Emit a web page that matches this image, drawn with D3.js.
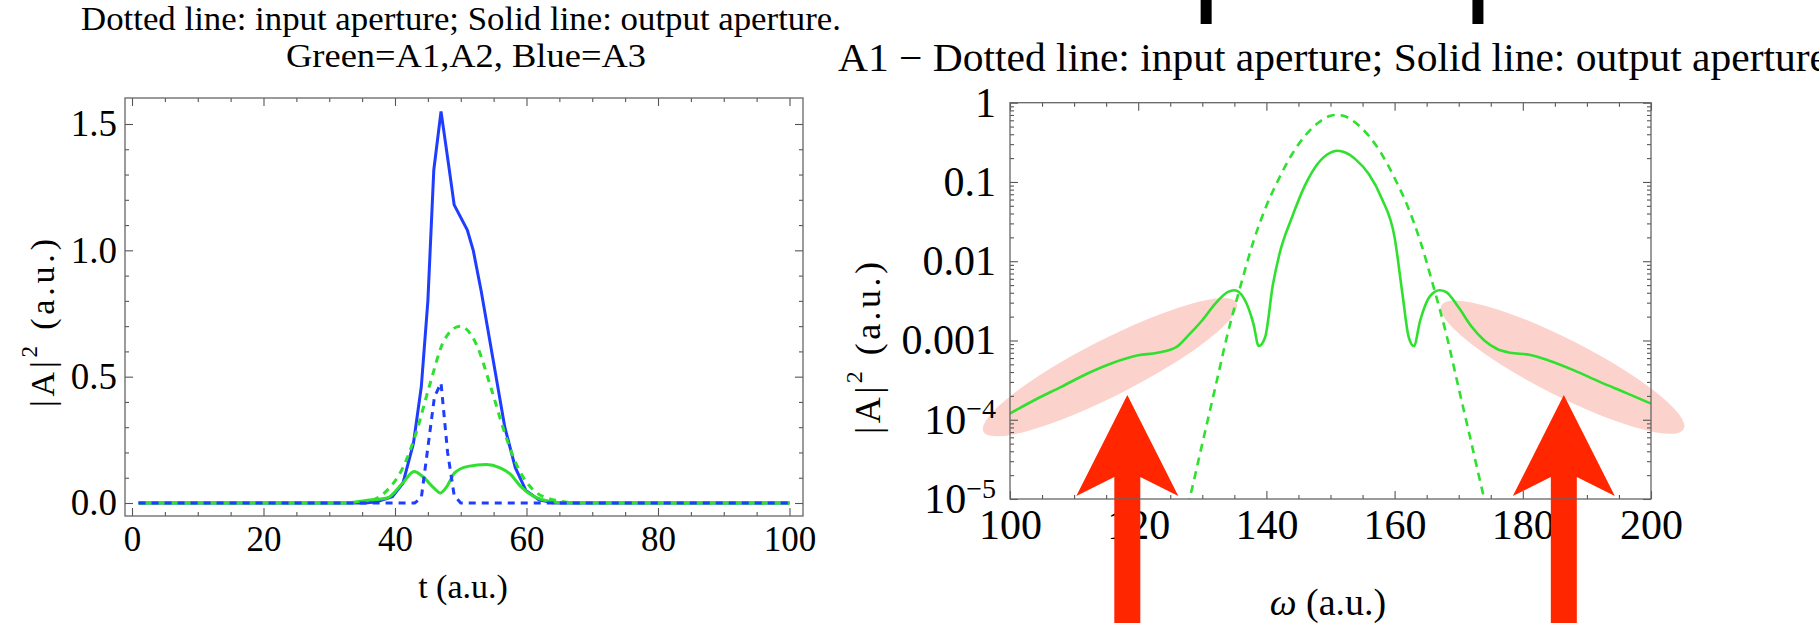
<!DOCTYPE html>
<html>
<head>
<meta charset="utf-8">
<script src="https://cdn.jsdelivr.net/npm/d3@7"></script>
<style>
  body { margin: 0; background: #fff; }
  svg { display: block; font-family: "Liberation Serif", "Times New Roman", serif; }
</style>
</head>
<body>
<svg id="chart" width="1819" height="623"></svg>
<script>
// ---- left panel: |A|^2 against t ----
const tTicks = [0, 20, 40, 60, 80, 100];
const aTicks = [0, 0.5, 1.0, 1.5];

const blueOutT = [1, 35.5, 37.2, 39.6, 41.2, 42.8, 44.0, 45.0, 45.9, 47.0, 48.2, 49.0, 51.0, 51.9, 53.1, 55.1, 56.7, 58.3, 59.9, 61.9, 64.2, 100];
const blueOutV = [0, 0, 0.005, 0.025, 0.078, 0.236, 0.46, 0.80, 1.318, 1.55, 1.33, 1.18, 1.08, 1.00, 0.84, 0.54, 0.30, 0.14, 0.05, 0.012, 0, 0];

const blueInT = [1, 43, 44, 45, 46, 47, 48, 49, 50, 100];
const blueInV = [0, 0, 0.02, 0.22, 0.42, 0.475, 0.2, 0.03, 0, 0];

const greenInT = [1, 31, 33, 35.6, 38.8, 41.2, 43.2, 45.2, 47.5, 49.9, 52.3, 54.7, 56.7, 58.7, 61.1, 64.2, 67.4, 70, 100];
const greenInV = [0, 0, 0.001, 0.005, 0.05, 0.14, 0.276, 0.46, 0.645, 0.70, 0.632, 0.447, 0.276, 0.14, 0.05, 0.012, 0.001, 0, 0];

const greenOutT = [1, 32, 35.6, 38.8, 41.2, 42.9, 44.2, 45.9, 46.9, 47.9, 49.1, 51.1, 53.9, 55.9, 57.5, 59.1, 61.1, 63.5, 66, 100];
const greenOutV = [0, 0, 0.01, 0.02, 0.08, 0.125, 0.105, 0.06, 0.04, 0.066, 0.12, 0.145, 0.152, 0.14, 0.115, 0.066, 0.026, 0.007, 0.0005, 0];

// ---- right panel: spectrum of A1 (log scale) ----
const wTicks = [100, 120, 140, 160, 180, 200];
const sTicks = [1, 0.1, 0.01, 0.001, 1e-4, 1e-5];
const sLabels = ['1', '0.1', '0.01', '0.001', '10|−4', '10|−5'];

const specInW = [126, 128, 130, 132, 134, 136, 138, 140, 142, 144, 146, 148, 150, 151, 152, 154, 156, 158, 160, 162, 164, 166, 168, 170, 172, 174, 176];
const specInS = [2.5e-6, 1.0e-5, 5.0e-5, 2.5e-4, 1.26e-3, 5.0e-3, 0.018, 0.05, 0.112, 0.224, 0.38, 0.55, 0.684, 0.70, 0.684, 0.55, 0.38, 0.224, 0.112, 0.05, 0.018, 5.0e-3, 1.26e-3, 2.5e-4, 5.0e-5, 1.0e-5, 2.5e-6];

const specOutW = [100, 104, 108, 112, 116, 120, 123, 126, 128, 130, 132, 134, 135, 136.5, 138, 138.8, 139.8, 141, 142, 144, 146, 148, 150, 151, 152, 154, 156, 158, 160, 161.2, 162.2, 163, 164, 165.5, 167, 168, 170, 172, 174, 176, 178, 181, 184, 188, 192, 196, 200];
const specOutS = [1.2e-4, 1.8e-4, 2.6e-4, 3.8e-4, 5.2e-4, 6.5e-4, 7.0e-4, 8.3e-4, 1.2e-3, 1.8e-3, 2.9e-3, 4.1e-3, 4.3e-3, 3.4e-3, 1.6e-3, 8.5e-4, 1.1e-3, 5e-3, 0.012, 0.036, 0.09, 0.17, 0.235, 0.248, 0.24, 0.19, 0.125, 0.062, 0.02, 4e-3, 1.1e-3, 8.5e-4, 1.8e-3, 3.6e-3, 4.3e-3, 4.1e-3, 2.6e-3, 1.5e-3, 1.0e-3, 7.8e-4, 7.0e-4, 6.6e-4, 5.6e-4, 4.2e-4, 3.0e-4, 2.2e-4, 1.6e-4];

// annotations, in data units of the right panel
const blobW = [115.6, 186.2];
const blobS = [4.6e-4, 4.6e-4];
const blobTilt = [-27, 27];
const arrowW = [118.3, 186.4];
const arrowTipS = 2.05e-4;
const topMarkW = [130.6, 173.0];

const blue = '#1f3dff';
const green = '#2fe02f';
const frameColor = '#666';

const svg = d3.select('#chart');

const xT = d3.scaleLinear().domain([0, 100]).range([132, 789.5]);
const yT = d3.scaleLinear().domain([0, 1.5]).range([503, 124]);
const leftBox = {x0: 125, x1: 803, y0: 98, y1: 516};

const xW = d3.scaleLinear().domain([100, 200]).range([1010, 1651]);
const yS = d3.scaleLog().domain([1e-5, 1]).range([499, 102.7]);
const rightBox = {x0: 1010, x1: 1651, y0: 102.7, y1: 499};

function ticks(g, axis, vals, size, fmt) {
    g.call(axis.tickValues(vals).tickSize(-size).tickFormat(fmt || (() => '')));
    g.select('.domain').remove();
    g.selectAll('.tick line').attr('stroke', '#555').attr('stroke-width', 1.1);
    g.attr('font-family', null).attr('font-size', null);
    g.selectAll('.tick text').attr('fill', '#000');
    return g;
}

function frame(box) {
    svg.append('rect')
        .attr('x', box.x0).attr('y', box.y0)
        .attr('width', box.x1 - box.x0).attr('height', box.y1 - box.y0)
        .attr('fill', 'none').attr('stroke', frameColor).attr('stroke-width', 1.3);
}

// ---------- left panel ----------
const tMinor = d3.range(0, 101, 5).filter(d => d % 20 !== 0);
const aMinor = d3.range(0, 16).map(d => d / 10).filter(d => Math.round(d * 10) % 5 !== 0);

const gl = svg.append('g');
const bottomL = gl.append('g').attr('transform', `translate(0,${leftBox.y1})`);
ticks(bottomL.append('g'), d3.axisBottom(xT).tickPadding(10), tTicks, 8, d => d);
ticks(bottomL.append('g'), d3.axisBottom(xT), tMinor, 4);
const topL = gl.append('g').attr('transform', `translate(0,${leftBox.y0})`);
ticks(topL.append('g'), d3.axisTop(xT), tTicks, 8);
ticks(topL.append('g'), d3.axisTop(xT), tMinor, 4);
const leftL = gl.append('g').attr('transform', `translate(${leftBox.x0},0)`);
ticks(leftL.append('g'), d3.axisLeft(yT).tickPadding(8), aTicks, 8, d3.format('.1f'));
ticks(leftL.append('g'), d3.axisLeft(yT), aMinor, 4);
const rightL = gl.append('g').attr('transform', `translate(${leftBox.x1},0)`);
ticks(rightL.append('g'), d3.axisRight(yT), aTicks, 8);
ticks(rightL.append('g'), d3.axisRight(yT), aMinor, 4);
gl.selectAll('.tick text').attr('font-size', 35);
leftL.selectAll('.tick text').attr('font-size', 37);
frame(leftBox);

const lineT = d3.line().x(d => xT(d[0])).y(d => yT(d[1]));
const smoothT = d3.line().x(d => xT(d[0])).y(d => yT(d[1])).curve(d3.curveMonotoneX);

const series = [
    {t: blueOutT, v: blueOutV, color: blue, dash: null, gen: lineT},
    {t: greenOutT, v: greenOutV, color: green, dash: null, gen: smoothT},
    {t: greenInT, v: greenInV, color: green, dash: '7,6', gen: smoothT},
    {t: blueInT, v: blueInV, color: blue, dash: '7,6', gen: lineT}
];
series.forEach(s => {
    gl.append('path')
        .datum(s.t.map((t, i) => [t, s.v[i]]))
        .attr('fill', 'none')
        .attr('stroke', s.color)
        .attr('stroke-width', 3)
        .attr('stroke-dasharray', s.dash)
        .attr('d', s.gen);
});

gl.append('text').attr('x', 461).attr('y', 30).attr('text-anchor', 'middle')
    .attr('font-size', 33).attr('textLength', 760).attr('lengthAdjust', 'spacingAndGlyphs')
    .text('Dotted line: input aperture; Solid line: output aperture.');
gl.append('text').attr('x', 466).attr('y', 67).attr('text-anchor', 'middle')
    .attr('font-size', 33).attr('textLength', 360).attr('lengthAdjust', 'spacingAndGlyphs')
    .text('Green=A1,A2, Blue=A3');
gl.append('text').attr('x', 463).attr('y', 598).attr('text-anchor', 'middle')
    .attr('font-size', 34).text('t (a.u.)');
gl.append('text').attr('transform', 'translate(42,323) rotate(-90)')
    .attr('text-anchor', 'middle').attr('dominant-baseline', 'central')
    .attr('font-size', 34).attr('textLength', 168).attr('lengthAdjust', 'spacing')
    .html('|A|<tspan dy="-13" font-size="23">2</tspan><tspan dy="13"> (a.u.)</tspan>');

// ---------- right panel ----------
const gr = svg.append('g');

gr.selectAll('ellipse').data(blobW).enter().append('ellipse')
    .attr('cx', d => xW(d))
    .attr('cy', (d, i) => yS(blobS[i]))
    .attr('rx', (d, i) => i ? 136 : 142).attr('ry', 28)
    .attr('transform', (d, i) => `rotate(${blobTilt[i]},${xW(d)},${yS(blobS[i])})`)
    .attr('fill', '#fbd3cc');

const wMinor = d3.range(100, 201, 5).filter(d => d % 20 !== 0);
const sMinor = [];
for (let e = -5; e < 0; e++) for (let m = 2; m <= 9; m++) sMinor.push(m * Math.pow(10, e));

const bottomR = gr.append('g').attr('transform', `translate(0,${rightBox.y1})`);
ticks(bottomR.append('g'), d3.axisBottom(xW).tickPadding(10), wTicks, 8, d => d);
ticks(bottomR.append('g'), d3.axisBottom(xW), wMinor, 4);
const topR = gr.append('g').attr('transform', `translate(0,${rightBox.y0})`);
ticks(topR.append('g'), d3.axisTop(xW), wTicks, 8);
ticks(topR.append('g'), d3.axisTop(xW), wMinor, 4);
const leftR = gr.append('g').attr('transform', `translate(${rightBox.x0},0)`);
ticks(leftR.append('g'), d3.axisLeft(yS).tickPadding(14), sTicks, 8, (d, i) => sLabels[i]);
ticks(leftR.append('g'), d3.axisLeft(yS), sMinor, 4);
const rightR = gr.append('g').attr('transform', `translate(${rightBox.x1},0)`);
ticks(rightR.append('g'), d3.axisRight(yS), sTicks, 8);
ticks(rightR.append('g'), d3.axisRight(yS), sMinor, 4);
gr.selectAll('.tick text').attr('font-size', 42);

// superscript powers of ten
leftR.selectAll('.tick text').each(function () {
    const el = d3.select(this);
    const parts = el.text().split('|');
    if (parts.length === 2) {
        el.text(parts[0]);
        el.append('tspan').attr('dy', '-0.55em').attr('font-size', 28).text(parts[1]);
    }
});
frame(rightBox);

svg.append('clipPath').attr('id', 'clipR').append('rect')
    .attr('x', rightBox.x0).attr('y', rightBox.y0)
    .attr('width', rightBox.x1 - rightBox.x0).attr('height', rightBox.y1 - rightBox.y0);

const lineS = d3.line().x(d => xW(d[0])).y(d => yS(d[1])).curve(d3.curveMonotoneX);
gr.append('path')
    .datum(specOutW.map((w, i) => [w, specOutS[i]]))
    .attr('clip-path', 'url(#clipR)')
    .attr('fill', 'none').attr('stroke', green).attr('stroke-width', 2.6)
    .attr('d', lineS);
gr.append('path')
    .datum(specInW.map((w, i) => [w, specInS[i]]))
    .attr('clip-path', 'url(#clipR)')
    .attr('fill', 'none').attr('stroke', green).attr('stroke-width', 2.6)
    .attr('stroke-dasharray', '8,6')
    .attr('d', lineS);

gr.append('text').attr('x', 838).attr('y', 71)
    .attr('font-size', 40).attr('textLength', 990).attr('lengthAdjust', 'spacingAndGlyphs')
    .text('A1 \u2212 Dotted line: input aperture; Solid line: output aperture');
gr.append('text').attr('x', 1328).attr('y', 615).attr('text-anchor', 'middle')
    .attr('font-size', 38)
    .html('<tspan font-style="italic">\u03C9</tspan> (a.u.)');
gr.append('text').attr('transform', 'translate(868,348) rotate(-90)')
    .attr('text-anchor', 'middle').attr('dominant-baseline', 'central')
    .attr('font-size', 36).attr('textLength', 172).attr('lengthAdjust', 'spacing')
    .html('|A|<tspan dy="-14" font-size="24">2</tspan><tspan dy="14"> (a.u.)</tspan>');

// red arrows pointing up at the side bands
const arrowShape = [[0, 0], [51, 101], [13, 82], [13, 240], [-13, 240], [-13, 82], [-51, 101]];
gr.selectAll('.arrow').data(arrowW).enter().append('path')
    .attr('class', 'arrow')
    .attr('d', w => d3.line()(arrowShape.map(p => [xW(w) + p[0], yS(arrowTipS) + p[1]])) + 'Z')
    .attr('fill', '#ff2600');

// black marks at the top edge
gr.selectAll('.mark').data(topMarkW).enter().append('rect')
    .attr('class', 'mark')
    .attr('x', w => xW(w) - 5.5).attr('y', 0)
    .attr('width', 11).attr('height', 24)
    .attr('fill', '#000');
</script>
</body>
</html>
